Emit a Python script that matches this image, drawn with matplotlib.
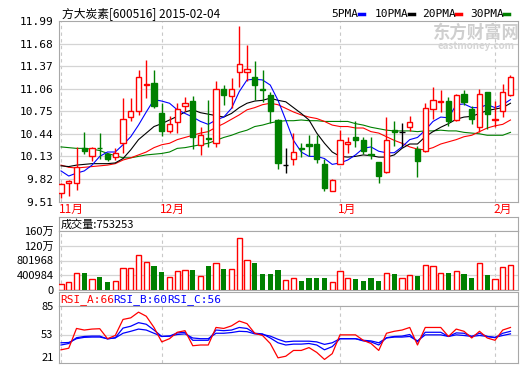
import matplotlib
matplotlib.use("Agg")
import matplotlib.pyplot as plt
from matplotlib.patches import Rectangle
from matplotlib.transforms import blended_transform_factory

CJK = ['Noto Sans CJK SC', 'DejaVu Sans']
plt.rcParams['font.family'] = CJK

W, H = 520, 365

# daily candles, 2014-11-12 .. 2015-02-04
opens = [9.62, 9.77, 9.76, 10.24, 10.14, 10.25, 10.16, 10.12, 10.31, 10.67,
	10.75, 11.11, 11.14, 10.72, 10.48, 10.60, 10.82, 10.89, 10.29, 10.38,
	10.32, 11.05, 10.96, 11.29, 11.29, 11.22, 11.05, 10.97, 10.63, 10.01,
	10.09, 10.24, 10.30, 10.30, 10.03, 9.66, 10.03, 10.30, 10.39, 10.35,
	10.16, 10.05, 9.91, 10.49, 10.46, 10.54, 10.23, 10.20, 10.78, 10.88,
	10.89, 10.63, 10.99, 10.78, 10.53, 11.01, 10.63, 10.75, 10.97]
closes = [9.75, 9.79, 9.98, 10.21, 10.25, 10.24, 10.09, 10.17, 10.65, 10.75,
	11.22, 11.12, 10.82, 10.48, 10.57, 10.78, 10.86, 10.39, 10.42, 10.37,
	11.05, 10.97, 11.06, 11.40, 11.33, 11.11, 11.04, 10.76, 10.04, 10.01,
	10.19, 10.23, 10.27, 10.10, 9.69, 9.80, 10.35, 10.33, 10.36, 10.21,
	10.15, 9.86, 10.36, 10.46, 10.46, 10.60, 10.06, 10.80, 10.90, 10.89,
	10.61, 10.97, 10.88, 10.64, 10.99, 10.71, 10.64, 11.01, 11.22]
highs = [9.76, 9.80, 10.26, 10.46, 10.26, 10.45, 10.18, 10.25, 10.93, 10.93,
	11.31, 11.45, 11.31, 10.87, 10.68, 10.86, 10.94, 10.96, 10.53, 10.91,
	11.17, 11.11, 11.21, 11.92, 11.66, 11.44, 11.32, 11.02, 10.64, 10.24,
	10.45, 10.31, 10.42, 10.42, 10.09, 9.82, 10.49, 10.40, 10.61, 10.40,
	10.40, 10.05, 10.67, 10.61, 10.59, 10.68, 10.27, 10.86, 11.08, 11.04,
	10.94, 10.99, 11.04, 10.82, 11.05, 11.02, 10.89, 11.13, 11.25]
lows = [9.56, 9.58, 9.67, 10.16, 10.06, 10.10, 10.07, 10.08, 10.18, 10.61,
	10.70, 10.93, 10.80, 10.41, 10.45, 10.45, 10.76, 10.23, 10.15, 10.26,
	10.26, 10.84, 10.80, 11.09, 11.16, 10.90, 10.88, 10.59, 9.96, 9.90,
	10.01, 10.12, 10.13, 10.04, 9.66, 9.66, 10.03, 10.17, 10.26, 10.16,
	10.10, 9.77, 9.90, 10.27, 10.26, 10.48, 9.84, 10.19, 10.64, 10.74,
	10.55, 10.61, 10.84, 10.58, 10.47, 10.51, 10.54, 10.67, 10.96]

ma5 = [9.93, 9.86, 9.90, 9.93, 10.01, 10.13, 10.19, 10.19, 10.29, 10.40,
	10.56, 10.74, 10.91, 10.89, 10.86, 10.77, 10.72, 10.67, 10.61, 10.57,
	10.63, 10.67, 10.79, 11.02, 11.18, 11.19, 11.18, 11.11, 10.90, 10.63,
	10.35, 10.19, 10.13, 10.13, 10.10, 10.02, 10.04, 10.08, 10.15, 10.24,
	10.26, 10.20, 10.18, 10.18, 10.26, 10.36, 10.39, 10.49, 10.61, 10.67,
	10.66, 10.84, 10.85, 10.80, 10.80, 10.84, 10.80, 10.84, 10.91]
ma10 = [10.00, 9.99, 10.01, 10.02, 10.03, 10.03, 10.03, 10.04, 10.10, 10.22,
	10.36, 10.45, 10.54, 10.58, 10.63, 10.68, 10.74, 10.77, 10.73, 10.71,
	10.69, 10.67, 10.72, 10.80, 10.86, 10.89, 10.90, 10.93, 10.90, 10.88,
	10.80, 10.72, 10.63, 10.45, 10.31, 10.19, 10.13, 10.12, 10.13, 10.15,
	10.14, 10.12, 10.12, 10.15, 10.24, 10.30, 10.30, 10.40, 10.47, 10.53,
	10.58, 10.64, 10.67, 10.68, 10.72, 10.76, 10.78, 10.80, 10.86]
ma20 = [10.01, 9.98, 9.97, 9.98, 9.99, 10.00, 10.01, 10.03, 10.08, 10.11,
	10.15, 10.19, 10.25, 10.29, 10.31, 10.36, 10.39, 10.42, 10.45, 10.47,
	10.53, 10.58, 10.64, 10.70, 10.77, 10.80, 10.84, 10.86, 10.84, 10.79,
	10.74, 10.70, 10.67, 10.65, 10.61, 10.56, 10.54, 10.54, 10.52, 10.52,
	10.47, 10.45, 10.40, 10.35, 10.31, 10.26, 10.23, 10.22, 10.25, 10.30,
	10.33, 10.36, 10.40, 10.42, 10.47, 10.52, 10.55, 10.57, 10.63]
ma30 = [10.26, 10.25, 10.24, 10.24, 10.23, 10.21, 10.17, 10.14, 10.11, 10.11,
	10.13, 10.15, 10.16, 10.17, 10.19, 10.24, 10.25, 10.27, 10.29, 10.31,
	10.35, 10.39, 10.42, 10.46, 10.49, 10.54, 10.56, 10.59, 10.61, 10.62,
	10.62, 10.63, 10.62, 10.62, 10.61, 10.61, 10.61, 10.61, 10.58, 10.56,
	10.53, 10.51, 10.49, 10.48, 10.48, 10.48, 10.47, 10.48, 10.48, 10.49,
	10.48, 10.48, 10.46, 10.45, 10.44, 10.42, 10.42, 10.42, 10.46]

volumes = [154000, 208000, 453000, 462000, 290000, 353000, 217000, 235000, 588000, 588000,
	941000, 751000, 652000, 489000, 344000, 507000, 534000, 552000, 371000, 652000,
	724000, 570000, 570000, 1403000, 815000, 733000, 434000, 434000, 543000, 262000,
	317000, 244000, 326000, 326000, 326000, 208000, 507000, 317000, 299000, 244000,
	326000, 244000, 453000, 425000, 317000, 398000, 380000, 670000, 643000, 453000,
	462000, 507000, 434000, 326000, 724000, 398000, 290000, 615000, 670000]

rsi_a = [35.8, 37.6, 59.8, 58.0, 59.1, 59.5, 48.3, 51.9, 69.9, 71.7,
	78.1, 73.5, 60.9, 44.7, 48.3, 55.5, 57.3, 40.4, 41.2, 41.2,
	60.9, 59.8, 62.7, 68.1, 65.2, 54.4, 51.9, 42.9, 26.8, 28.6,
	35.1, 35.1, 38.3, 32.9, 25.0, 31.5, 52.6, 52.6, 52.6, 46.5,
	42.9, 35.1, 54.4, 56.6, 58.0, 60.9, 41.2, 60.9, 60.9, 60.9,
	50.8, 59.1, 56.6, 49.1, 56.6, 49.1, 46.5, 58.0, 60.9]
rsi_b = [41.2, 42.9, 49.4, 50.8, 51.2, 51.2, 48.0, 49.4, 60.2, 62.3,
	66.3, 64.5, 58.0, 50.8, 51.2, 54.8, 55.5, 46.5, 46.5, 46.5,
	58.0, 57.3, 58.0, 60.9, 59.8, 54.4, 53.7, 49.1, 43.7, 41.2,
	42.2, 42.2, 42.9, 41.2, 35.8, 39.4, 48.3, 48.3, 48.3, 45.8,
	44.7, 41.2, 49.4, 50.8, 51.2, 53.0, 44.7, 55.5, 55.5, 55.5,
	50.8, 54.8, 54.4, 50.8, 54.4, 50.8, 49.4, 54.4, 56.6]
rsi_c = [43.7, 44.0, 48.3, 49.8, 50.1, 50.1, 48.3, 49.1, 54.4, 56.6,
	59.1, 58.0, 54.4, 50.8, 51.2, 53.0, 53.7, 49.1, 48.3, 48.3,
	54.4, 54.4, 55.2, 56.6, 56.2, 53.7, 53.0, 51.2, 47.6, 44.7,
	45.5, 45.5, 45.5, 44.7, 41.9, 43.7, 48.3, 48.3, 48.3, 46.5,
	45.8, 43.7, 49.1, 50.1, 50.1, 50.8, 45.8, 52.6, 52.6, 52.6,
	50.8, 52.6, 51.9, 50.8, 51.9, 50.8, 49.8, 51.9, 53.7]

month_pos = [0, 13, 36, 56]
month_labels = ["11月", "12月", "1月", "2月"]
price_ticks = [9.51, 9.82, 10.13, 10.44, 10.75, 11.06, 11.37, 11.68, 11.99]
vol_ticks = [0, 400984, 801968, 1202952, 1603936]
vol_labels = ["0", "400984", "801968", "120万", "160万"]
rsi_ticks = [21, 53, 85]

RED, GREEN, BLUE = "#ff0000", "#008000", "#0000ff"
GRID, BORDER = "#d4d4d4", "#a8a8a8"
xlim = (-0.26, 58.97)

fig = plt.figure(figsize = (W / 100, H / 100), dpi = 100)
fig.patch.set_facecolor("white")

def px_axes(x0, y0, x1, y1):
	return fig.add_axes([x0 / W, 1 - y1 / H, (x1 - x0) / W, (y1 - y0) / H])

def style(ax, ticks, labels = None):
	ax.set_xlim(*xlim)
	ax.set_xticks([])
	ax.set_yticks(ticks)
	if labels is not None:
		ax.set_yticklabels(labels)
	ax.tick_params(axis = "y", length = 0, pad = 4, labelsize = 8)
	for side in ax.spines.values():
		side.set_color(BORDER)
	for pos in month_pos:
		ax.axvline(pos, color = "#c8c8c8", lw = 0.8, ls = (0, (3, 3)), zorder = 0)

# main price panel
ax = px_axes(59, 21, 518, 201.5)
style(ax, price_ticks)
ax.set_ylim(9.51, 11.99)
ax.set_yticklabels([f"{t:.2f}" for t in price_ticks], family = "DejaVu Sans Mono")
for t in price_ticks[1:-1]:
	ax.axhline(t, color = GRID, lw = 0.9, zorder = 0)
x = list(range(len(closes)))
for name, line, colour in (("ma30", ma30, GREEN), ("ma20", ma20, RED), ("ma10", ma10, "black"), ("ma5", ma5, BLUE)):
	ax.plot(x, line, color = colour, lw = 0.8, zorder = 2)
bw = 0.66
for i, (o, c, h, l) in enumerate(zip(opens, closes, highs, lows)):
	if c > o:
		colour = RED
		ax.vlines(i, c, h, color = colour, lw = 1, zorder = 3)
		ax.vlines(i, l, o, color = colour, lw = 1, zorder = 3)
		ax.add_patch(Rectangle((i - bw / 2, o), bw, c - o, facecolor = "white", edgecolor = colour, lw = 1, zorder = 4))
	elif c < o:
		colour = GREEN
		ax.vlines(i, l, h, color = colour, lw = 1, zorder = 3)
		ax.add_patch(Rectangle((i - bw / 2, c), bw, o - c, facecolor = colour, edgecolor = colour, lw = 1, zorder = 4))
	else:
		ax.vlines(i, l, h, color = "black", lw = 1, zorder = 3)
		ax.hlines(c, i - bw / 2, i + bw / 2, color = "black", lw = 1, zorder = 4)

trans = blended_transform_factory(ax.transData, ax.transAxes)
for pos, label in zip(month_pos, month_labels):
	ax.text(pos - 0.25, -0.01, label, transform = trans, color = RED, fontsize = 8.5, ha = "left", va = "top")

fig.text(62 / W, 1 - 14 / H, "方大炭素[600516] 2015-02-04", fontsize = 8.5, va = "center", ha = "left")
legend = [("5PMA", BLUE, 331), ("10PMA", "black", 375), ("20PMA", RED, 422), ("30PMA", GREEN, 470)]
for text, colour, x0 in legend:
	label = fig.text(x0 / W, 1 - 14 / H, text, fontsize = 8, va = "center", ha = "left", family = "DejaVu Sans Mono")
	end = x0 + 6.0 * len(text) + 4
	fig.add_artist(plt.Line2D([end / W, (end + 5) / W], [1 - 14 / H] * 2, color = colour, lw = 2.5))
fig.text(476 / W, 1 - 33 / H, "东方财富网", fontsize = 12.5, fontweight = "bold", color = "#cfcfcf", ha = "center", va = "center")
fig.text(476 / W, 1 - 46 / H, "eastmoney.com", fontsize = 7, fontweight = "bold", color = "#d4d4d4", ha = "center", va = "center")

# volume panel
head = px_axes(59, 217, 518, 231)
head.set_xticks([])
head.set_yticks([])
for side in head.spines.values():
	side.set_color(BORDER)
head.text(0.003, 0.45, "成交量:753253", transform = head.transAxes, fontsize = 8, va = "center")

axv = px_axes(59, 231, 518, 290)
style(axv, vol_ticks, vol_labels)
axv.set_ylim(0, 1603936)
for t in vol_ticks[1:-1]:
	axv.axhline(t, color = GRID, lw = 0.9, zorder = 0)
for i, v in enumerate(volumes):
	if closes[i] >= opens[i]:
		axv.bar(i, v, width = 0.68, facecolor = "white", edgecolor = RED, lw = 1, zorder = 3)
	else:
		axv.bar(i, v, width = 0.68, color = GREEN, lw = 0, zorder = 3)

# RSI panel
head2 = px_axes(59, 292, 518, 306)
head2.set_xticks([])
head2.set_yticks([])
for side in head2.spines.values():
	side.set_color(BORDER)
for text, colour, x0 in (("RSI_A:66", RED, 60), ("RSI_B:60", BLUE, 113), ("RSI_C:56", BLUE, 167)):
	fig.text(x0 / W, 1 - 299.5 / H, text, color = colour, fontsize = 8, va = "center", family = "DejaVu Sans Mono")

axr = px_axes(59, 306, 518, 363)
style(axr, rsi_ticks)
axr.set_ylim(21, 85)
axr.get_yticklabels()[0].set_va("bottom")
axr.axhline(53, color = GRID, lw = 0.9, zorder = 0)
axr.plot(x, rsi_c, color = BLUE, lw = 0.9, zorder = 2)
axr.plot(x, rsi_b, color = BLUE, lw = 0.9, zorder = 2)
axr.plot(x, rsi_a, color = RED, lw = 0.9, zorder = 3)

fig.savefig("out.png", dpi = 100)
